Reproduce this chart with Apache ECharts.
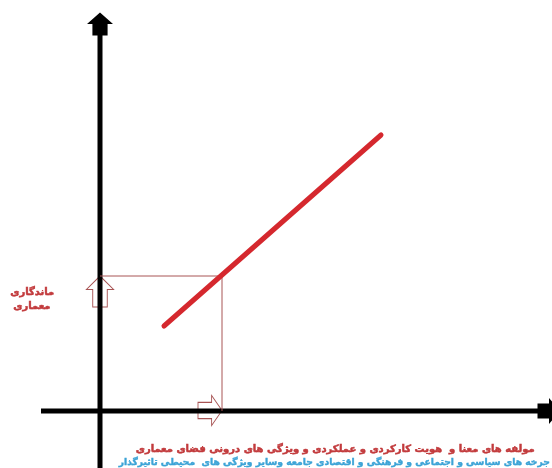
<!DOCTYPE html>
<html>
<head>
<meta charset="utf-8">
<style>
html,body{margin:0;padding:0;background:#fff;}
#main{width:552px;height:468px;}
</style>
</head>
<body>
<div id="main"></div>
<script src="https://cdn.jsdelivr.net/npm/echarts@6/dist/echarts.min.js"></script>
<script type="text/javascript">
// data: origin at the crossing of the two axes
var axisXLine = [[-5.9, 0], [44.5, 0]];
var axisYLine = [[0, -5.7], [0, 37.6]];
var trendLine = [[6.4, 8.5], [28.1, 27.6]];
var guideLine = [[0, 13.5], [12.2, 13.5], [12.2, 0]];
var axisHeads = [[0, 38.7], [44.9, 0]];
var hollowArrows = [[0, 11.95], [11.0, 0.05]];

var yLabel = ['ماندگاری', 'معماری'];
var xLabel = 'مولفه های معنا و  هویت کارکردی و عملکردی و ویژگی های درونی فضای معماری';
var xLabel2 = 'جرخه های سیاسی و اجتماعی و فرهنگی و اقتصادی جامعه وسایر ویژگی های  محیطی تاثیرگذار';

var houseShape = 'path://M12,0 L24,11 L19,11 L19,22 L5,22 L5,11 L0,11 Z';
var arrowShape = 'path://M13,0 L26,13 L20,13 L20,30 L6,30 L6,13 L0,13 Z';

var myChart = echarts.init(document.getElementById('main'));
var option = {
    backgroundColor: '#fff',
    animation: false,
    grid: { left: 0, right: 0, top: 0, bottom: 0 },
    xAxis: { type: 'value', min: -10, max: 45.2, show: false },
    yAxis: { type: 'value', min: -5.7, max: 41.1, show: false },
    series: [
        {
            type: 'line', data: axisXLine, symbol: 'none', silent: true,
            lineStyle: { color: '#000', width: 5 }
        },
        {
            type: 'line', data: axisYLine, symbol: 'none', silent: true,
            lineStyle: { color: '#000', width: 5 }
        },
        {
            type: 'line', data: guideLine, symbol: 'none', silent: true,
            lineStyle: { color: '#a85454', width: 1 }
        },
        {
            type: 'line', data: trendLine, symbol: 'none', silent: true,
            lineStyle: { color: '#d5282e', width: 5, cap: 'round' }
        },
        {
            type: 'scatter', silent: true,
            data: [
                { value: axisHeads[0], symbolRotate: 0 },
                { value: axisHeads[1], symbolRotate: -90 }
            ],
            symbol: houseShape, symbolSize: [26, 23],
            itemStyle: { color: '#000', opacity: 1 }
        },
        {
            type: 'scatter', silent: true,
            data: [
                { value: hollowArrows[0], symbolRotate: 0, symbolSize: [27, 31] },
                { value: hollowArrows[1], symbolRotate: -90, symbolSize: [30, 24] }
            ],
            symbol: arrowShape,
            itemStyle: { color: 'rgba(0,0,0,0)', borderColor: '#a85454', borderWidth: 1, opacity: 1 }
        }
    ],
    graphic: [
        {
            type: 'text', left: 10, top: 287,
            style: { text: yLabel[0], fill: '#c23a3c', stroke: '#c23a3c', lineWidth: 0.5, font: 'bold 10px "DejaVu Sans"' }
        },
        {
            type: 'text', left: 13, top: 301,
            style: { text: yLabel[1], fill: '#c23a3c', stroke: '#c23a3c', lineWidth: 0.5, font: 'bold 10px "DejaVu Sans"' }
        },
        {
            type: 'text', right: 17, top: 444,
            style: { text: xLabel, fill: '#c23a3c', stroke: '#c23a3c', lineWidth: 0.5, font: 'bold 10px "DejaVu Sans"' }
        },
        {
            type: 'text', right: 2, top: 458,
            style: { text: xLabel2, fill: '#3ba3d6', stroke: '#3ba3d6', lineWidth: 0.4, font: 'bold 9.2px "DejaVu Sans"' }
        }
    ]
};
myChart.setOption(option);
</script>
</body>
</html>
